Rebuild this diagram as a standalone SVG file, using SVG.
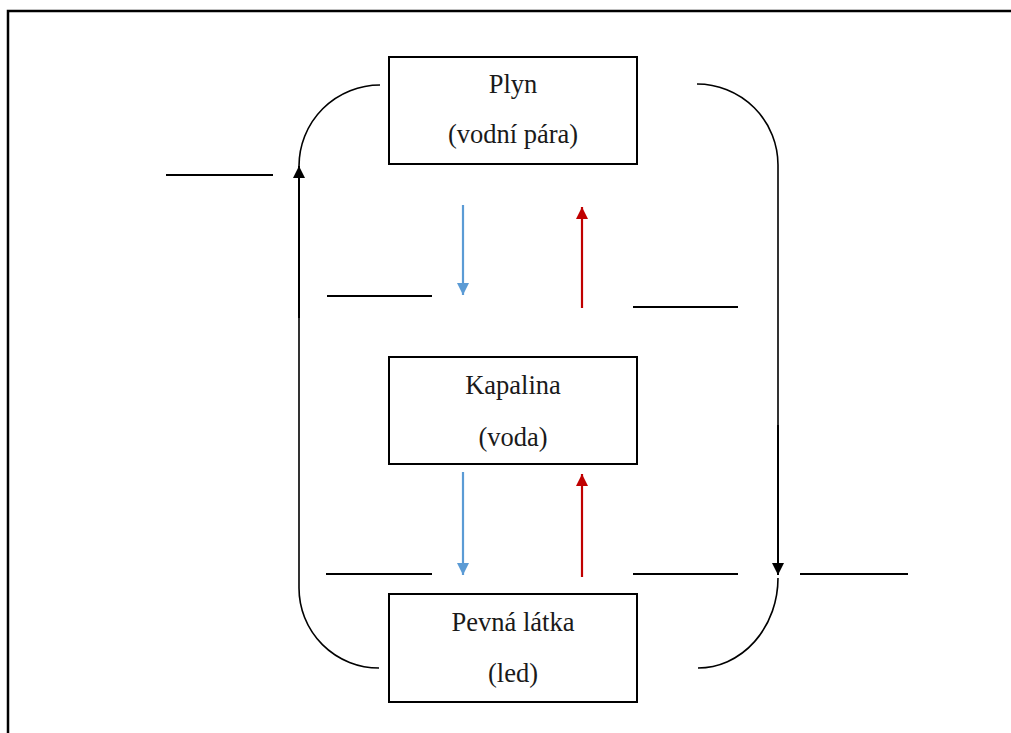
<svg xmlns="http://www.w3.org/2000/svg" width="1011" height="733" viewBox="0 0 1011 733">
<style>
.box{fill:#fff;stroke:#000;stroke-width:2}
.t{font-family:"Liberation Serif","Times New Roman",serif;font-size:26.5px;fill:#1a1a1a;text-anchor:middle}
.blank{stroke:#000;stroke-width:2;fill:none}
.conn{stroke:#000;stroke-width:1.6;fill:none}
.arr{stroke:#000;stroke-width:2;fill:none}
.blue{stroke:#5B9BD5;stroke-width:2.2;fill:none}
.red{stroke:#C00000;stroke-width:2.2;fill:none}
</style>
<defs>
<marker id="mk" viewBox="0 0 10 10" refX="10" refY="5" markerUnits="userSpaceOnUse" markerWidth="13" markerHeight="12" orient="auto"><path d="M0,0 L10,5 L0,10 Z" fill="#000"/></marker>
<marker id="mb" viewBox="0 0 10 10" refX="10" refY="5" markerUnits="userSpaceOnUse" markerWidth="13" markerHeight="12" orient="auto"><path d="M0,0 L10,5 L0,10 Z" fill="#5B9BD5"/></marker>
<marker id="mr" viewBox="0 0 10 10" refX="10" refY="5" markerUnits="userSpaceOnUse" markerWidth="13" markerHeight="12" orient="auto"><path d="M0,0 L10,5 L0,10 Z" fill="#C00000"/></marker>
</defs>
<rect x="0" y="0" width="1011" height="733" fill="#fff"/>
<path d="M8,733 L8,11 L1011,11" fill="none" stroke="#000" stroke-width="2.5"/>
<g id="connectors">
<path class="conn" d="M379,668 A80,80 0 0 1 299,588 L299,318"/>
<path class="arr" d="M299,318 L299,166" marker-end="url(#mk)"/>
<path class="conn" d="M299,166 A81,81 0 0 1 380,85"/>
<path class="conn" d="M697,84 A81,81 0 0 1 778,165 L778,425"/>
<path class="arr" d="M778,425 L778,575" marker-end="url(#mk)"/>
<path class="conn" d="M778,578 A80,90 0 0 1 698,668"/>
<path class="blue" d="M463,205 L463,295" marker-end="url(#mb)"/>
<path class="red" d="M582,308 L582,207" marker-end="url(#mr)"/>
<path class="blue" d="M463,472 L463,575" marker-end="url(#mb)"/>
<path class="red" d="M582,577 L582,474" marker-end="url(#mr)"/>
</g>
<g id="blanks">
<line class="blank" x1="166" y1="175" x2="273" y2="175"/>
<line class="blank" x1="327" y1="296" x2="432" y2="296"/>
<line class="blank" x1="633" y1="307" x2="738" y2="307"/>
<line class="blank" x1="326" y1="574" x2="432" y2="574"/>
<line class="blank" x1="633" y1="574" x2="738" y2="574"/>
<line class="blank" x1="800" y1="574" x2="908" y2="574"/>
</g>
<g id="plyn">
<rect class="box" x="389" y="57" width="248" height="107"/>
<text class="t" x="513" y="93">Plyn</text>
<text class="t" x="513" y="143">(vodní pára)</text>
</g>
<g id="kapalina">
<rect class="box" x="389" y="357" width="248" height="107"/>
<text class="t" x="513" y="394">Kapalina</text>
<text class="t" x="513" y="446">(voda)</text>
</g>
<g id="pevna">
<rect class="box" x="389" y="594" width="248" height="108"/>
<text class="t" x="513" y="631">Pevná látka</text>
<text class="t" x="513" y="682">(led)</text>
</g>
</svg>
